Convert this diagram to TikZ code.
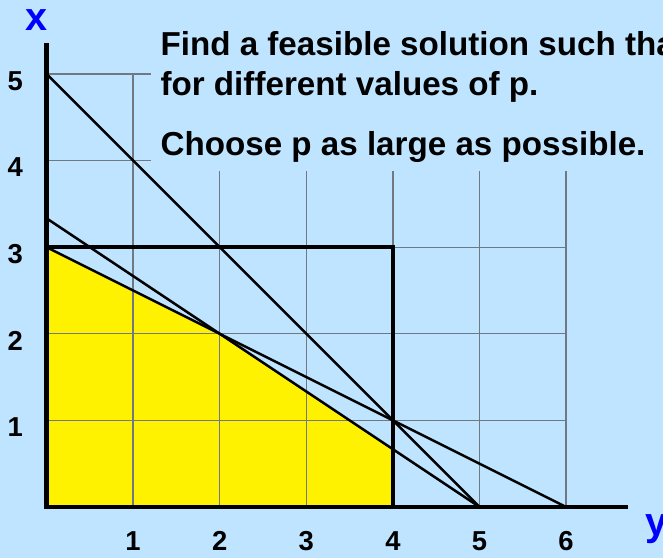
\documentclass[tikz,border=0pt]{standalone}
\usepackage{fontspec}
\setmainfont{Liberation Sans}
\definecolor{skybg}{RGB}{191,228,255}
\definecolor{gridgray}{RGB}{112,120,130}

\begin{document}
\begin{tikzpicture}[
  gridline/.style={gridgray,line width=0.4pt},
  pline/.style={black,line width=0.8pt},
  ticklab/.style={font=\fontsize{9}{10}\selectfont\bfseries},
  axlab/.style={blue,font=\fontsize{13}{15}\selectfont\bfseries}]
\path[use as bounding box,fill=skybg] (-0.537,-0.589) rectangle (7.119,5.854);
\coordinate (O) at (0,0);
\coordinate (xtop) at (0,5.36);
\coordinate (yend) at (6.715,0);
\coordinate (a5) at (0,5);
\coordinate (a103) at (0,{10/3});
\coordinate (a3) at (0,3);
\coordinate (b5) at (5,0);
\coordinate (b6) at (6,0);
\coordinate (r) at (4,3);
% feasible region
\fill[yellow] (O) -- (a3) -- (2,2) -- (4,{2/3}) -- (4,0) -- cycle;
\foreach \k in {1,...,6}
  \draw[gridline] (\k,0) -- (\k,5);
\foreach \k in {1,...,5}
  \draw[gridline] (0,\k) -- (6,\k);
\node[fill=skybg,anchor=south west,inner xsep=0.11cm,inner ysep=0.1cm,align=left,
  font=\fontsize{10.9}{13.1}\selectfont\bfseries] (task) at (1.2,3.87)
  {Find a feasible solution such that\\for different values of p.\\[6.6pt]Choose p as large as possible.};
\draw[pline] (a5) -- (b5);
\draw[pline] (a103) -- (b5);
\draw[pline] (a3) -- (b6);
\draw[line width=1.4pt] (O) rectangle (r);
\draw[line width=1.6pt] (xtop) -- (O) -- (yend);
\foreach \k in {1,...,5}
  \node[ticklab] (xl\k) at (-0.36,\k-0.08) {\k};
\foreach \k in {1,...,6}
  \node[ticklab] (yl\k) at (\k,-0.39) {\k};
\node[axlab] (xname) at (-0.11,5.625) {x};
\node[axlab,anchor=base west,inner sep=0pt] (yname) at (6.91,-0.335) {y};
\end{tikzpicture}
\end{document}
